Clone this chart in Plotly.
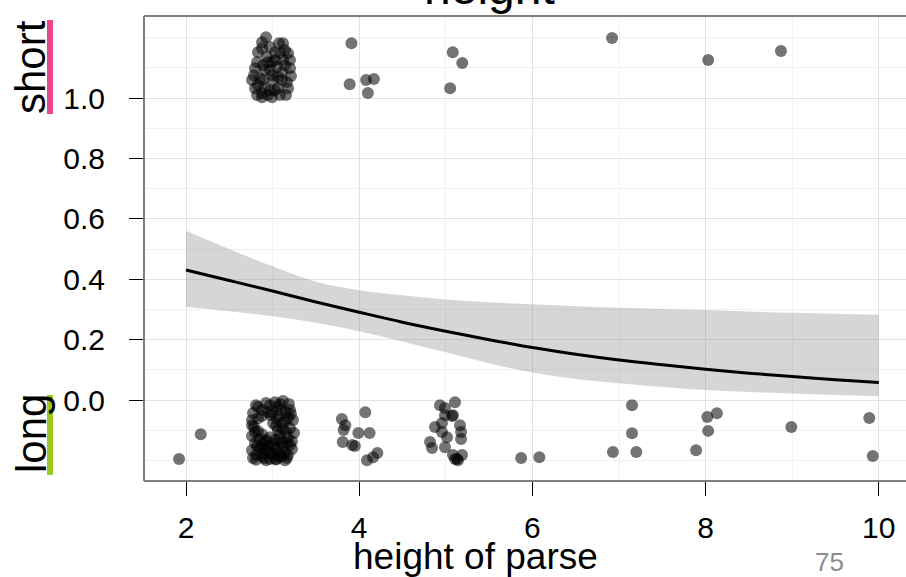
import plotly.graph_objects as go

# ---- data ----
# fitted logistic curve with confidence band
curve_x = [2, 2.5, 3, 3.5, 4, 4.5, 5, 5.5, 6, 6.5, 7, 7.5, 8, 8.5, 9, 9.5, 10]
fit_y = [0.431, 0.396, 0.361, 0.325, 0.291, 0.258, 0.228, 0.200, 0.174, 0.152,
         0.133, 0.117, 0.102, 0.089, 0.078, 0.067, 0.058]
upper_y = [0.561, 0.500, 0.443, 0.392, 0.364, 0.347, 0.333, 0.324, 0.317, 0.311,
           0.306, 0.302, 0.298, 0.293, 0.289, 0.286, 0.283]
lower_y = [0.309, 0.294, 0.278, 0.256, 0.228, 0.194, 0.158, 0.122, 0.091, 0.070,
           0.056, 0.043, 0.033, 0.027, 0.022, 0.017, 0.013]

# jittered observations: "short" (near 1) and "long" (near 0)
short_x = [2.924, 3.074, 3.120, 3.178, 2.831, 2.935, 3.120, 2.797, 3.201, 2.970,
           3.051, 2.855, 3.166, 3.005, 2.797, 2.912, 3.028, 2.820, 2.947, 2.878,
           3.062, 2.993, 3.109, 2.889, 2.820, 3.143, 3.028, 3.085, 2.970, 2.878,
           3.212, 2.762, 3.085, 2.993, 2.878,
           2.878, 3.143, 3.028, 2.912, 3.109, 2.831, 2.970, 3.178, 2.889, 3.062,
           2.785, 2.993, 3.155, 2.947, 3.201,
           3.91, 3.89, 4.08, 4.17, 4.10, 5.08, 5.19, 5.05, 6.92, 8.03, 8.87]
short_y = [1.202, 1.182, 1.182, 1.149, 1.152, 1.136, 1.126, 1.099, 1.099, 1.093,
           1.103, 1.066, 1.053, 1.060, 1.033, 1.036, 1.026, 1.010, 1.010, 1.017,
           1.033, 1.076, 1.086, 1.109, 1.119, 1.109, 1.152, 1.149, 1.169, 1.185,
           1.073, 1.060, 1.010, 1.119, 1.003,
           1.165, 1.159, 1.126, 1.093, 1.060, 1.043, 1.026, 1.033, 1.060, 1.070,
           1.076, 1.003, 1.010, 1.119, 1.126,
           1.182, 1.046, 1.060, 1.063, 1.017, 1.152, 1.116, 1.033, 1.199, 1.126, 1.156]

long_x = [2.808, 2.924, 3.028, 3.120, 3.189, 2.774, 2.878, 2.993, 3.097, 3.212,
          2.762, 2.831, 3.051, 3.143, 3.236, 2.785, 3.039, 3.120, 3.201,
          2.762, 2.878, 2.970, 3.085, 3.178, 3.247, 2.797, 2.912, 3.005, 3.109, 3.201,
          2.762, 2.855, 2.947, 3.051, 3.143, 3.224, 2.774, 2.878, 2.970, 3.074, 3.166,
          2.808, 2.924, 3.039, 3.143, 2.843, 3.028, 2.947, 3.085, 2.889, 3.166,
          2.982, 3.074, 3.155, 2.831, 3.109, 2.970, 3.051, 2.901, 3.016,
          2.831, 3.085, 2.878, 3.178, 3.005, 2.797, 3.155, 3.062, 2.924, 3.120,
          2.820, 3.224, 2.982, 3.178, 2.808, 3.039, 2.878, 3.016, 3.201, 2.762,
          2.947, 3.109, 2.901, 3.074,
          3.80, 3.84, 3.82, 3.81, 3.92, 3.95, 3.99, 4.12, 4.07, 4.09, 4.16, 4.21,
          4.933, 4.991, 5.106, 4.991, 4.956, 5.083, 4.875, 4.956, 5.164, 5.176,
          5.176, 4.818, 4.841, 4.991, 5.083, 5.129, 5.187, 5.141, 5.072, 5.014, 5.106,
          1.92, 2.17, 5.87, 6.08, 7.15, 7.15, 6.93, 7.20, 7.89, 8.02, 8.13, 8.03,
          8.99, 9.89, 9.93]
long_y = [-0.017, -0.010, -0.007, -0.003, -0.013, -0.043, -0.033, -0.040, -0.033, -0.046,
          -0.066, -0.060, -0.063, -0.070, -0.066, -0.089, -0.086, -0.096, -0.093,
          -0.119, -0.113, -0.123, -0.116, -0.123, -0.109, -0.142, -0.136, -0.146, -0.139, -0.149,
          -0.166, -0.159, -0.169, -0.162, -0.172, -0.162, -0.192, -0.185, -0.195, -0.189, -0.192,
          -0.198, -0.199, -0.197, -0.199, -0.129, -0.132, -0.152, -0.175, -0.175, -0.142,
          -0.050, -0.050, -0.040, -0.103, -0.076, -0.017, -0.023, -0.192, -0.182,
          -0.023, -0.013, -0.053, -0.060, -0.076, -0.106, -0.106, -0.099, -0.132, -0.152,
          -0.152, -0.136, -0.175, -0.182, -0.182, -0.195, -0.146, -0.159, -0.033, -0.083,
          -0.040, -0.185, -0.162, -0.132,
          -0.063, -0.083, -0.099, -0.139, -0.149, -0.152, -0.109, -0.109, -0.040, -0.199, -0.189, -0.175,
          -0.017, -0.026, -0.007, -0.050, -0.076, -0.050, -0.089, -0.106, -0.083, -0.106,
          -0.129, -0.139, -0.159, -0.156, -0.182, -0.195, -0.182, -0.199, -0.053, -0.123, -0.195,
          -0.195, -0.113, -0.192, -0.189, -0.017, -0.110, -0.172, -0.172, -0.166, -0.056, -0.044, -0.102,
          -0.089, -0.059, -0.185]

y_ticks = [0.0, 0.2, 0.4, 0.6, 0.8, 1.0]
y_labels = ["0.0", "0.2", "0.4", "0.6", "0.8", "1.0"]
y_minor = [-0.2, -0.1, 0.1, 0.3, 0.5, 0.7, 0.9, 1.1, 1.2]
x_ticks = [2, 4, 6, 8, 10]
x_labels = ["2", "4", "6", "8", "10"]
x_minor = [3, 5, 7, 9]

FONT = "Liberation Sans, Arial, Helvetica, sans-serif"

fig = go.Figure()
# confidence band
fig.add_trace(go.Scatter(x=curve_x, y=upper_y, mode="lines", line=dict(width=0, shape="spline"),
                         hoverinfo="skip", showlegend=False))
fig.add_trace(go.Scatter(x=curve_x, y=lower_y, mode="lines", line=dict(width=0, shape="spline"),
                         fill="tonexty", fillcolor="rgba(153,153,153,0.4)",
                         hoverinfo="skip", showlegend=False))
# points
fig.add_trace(go.Scatter(x=short_x + long_x, y=short_y + long_y, mode="markers",
                         marker=dict(size=12, color="rgba(0,0,0,0.55)", line=dict(width=0)),
                         showlegend=False))
# fitted line
fig.add_trace(go.Scatter(x=curve_x, y=fit_y, mode="lines",
                         line=dict(color="black", width=3, shape="spline"), showlegend=False))

W, H = 906, 577
L, T, B = 144, 16, 96
pw, ph = W - L, H - T - B


def px(xp):
    return (xp - L) / pw


def py(yp):
    return (H - B - yp) / ph


fig.update_layout(
    width=W, height=H,
    margin=dict(l=L, r=0, t=T, b=B),
    paper_bgcolor="white", plot_bgcolor="white",
    font=dict(family=FONT, color="black"),
    xaxis=dict(range=[1.515, 10.314], tickmode="array", tickvals=x_ticks, ticktext=x_labels,
               ticks="outside", ticklen=14, tickwidth=1.3, tickcolor="black",
               tickfont=dict(size=30, color="black"), ticklabelstandoff=6,
               showgrid=True, gridcolor="#e2e2e2", gridwidth=1.3, zeroline=False, showline=False,
               minor=dict(tickvals=x_minor, showgrid=True, gridcolor="#f1f1f1", gridwidth=1.3, ticks="")),
    yaxis=dict(range=[-0.268, 1.272], tickmode="array", tickvals=y_ticks, ticktext=y_labels,
               ticks="outside", ticklen=14, tickwidth=1.3, tickcolor="black",
               tickfont=dict(size=30, color="black"), ticklabelstandoff=18,
               showgrid=True, gridcolor="#e2e2e2", gridwidth=1.3, zeroline=False, showline=False,
               minor=dict(tickvals=y_minor, showgrid=True, gridcolor="#f1f1f1", gridwidth=1.3, ticks="")),
    shapes=[
        dict(type="line", xref="paper", yref="paper", x0=0, x1=0, y0=0, y1=1,
             line=dict(color="#7f7f7f", width=2)),
        dict(type="line", xref="paper", yref="paper", x0=0, x1=1, y0=1, y1=1,
             line=dict(color="#7f7f7f", width=2)),
        dict(type="line", xref="paper", yref="paper", x0=0, x1=1, y0=0, y1=0,
             line=dict(color="#7f7f7f", width=2)),
        dict(type="rect", xref="paper", yref="paper", x0=px(47), x1=px(53), y0=py(114), y1=py(20),
             fillcolor="#EA4589", line=dict(width=0)),
        dict(type="rect", xref="paper", yref="paper", x0=px(47), x1=px(53), y0=py(475), y1=py(395),
             fillcolor="#9BCB1C", line=dict(width=0)),
    ],
    annotations=[
        dict(text="height", xref="paper", yref="paper", x=px(489), y=py(-12),
             xanchor="center", yanchor="middle", showarrow=False, font=dict(size=48, color="black")),
        dict(text="height of parse", xref="paper", yref="paper", x=px(475), y=py(556),
             xanchor="center", yanchor="middle", showarrow=False, font=dict(size=37, color="black")),
        dict(text="short", xref="paper", yref="paper", x=px(31), y=py(67), textangle=-90,
             xanchor="center", yanchor="middle", showarrow=False, font=dict(size=42, color="black")),
        dict(text="long", xref="paper", yref="paper", x=px(31), y=py(434), textangle=-90,
             xanchor="center", yanchor="middle", showarrow=False, font=dict(size=42, color="black")),
        dict(text="75", xref="paper", yref="paper", x=px(829), y=py(562),
             xanchor="center", yanchor="middle", showarrow=False, font=dict(size=26, color="#8c8c8c")),
    ],
)

fig.write_html("out.html")
